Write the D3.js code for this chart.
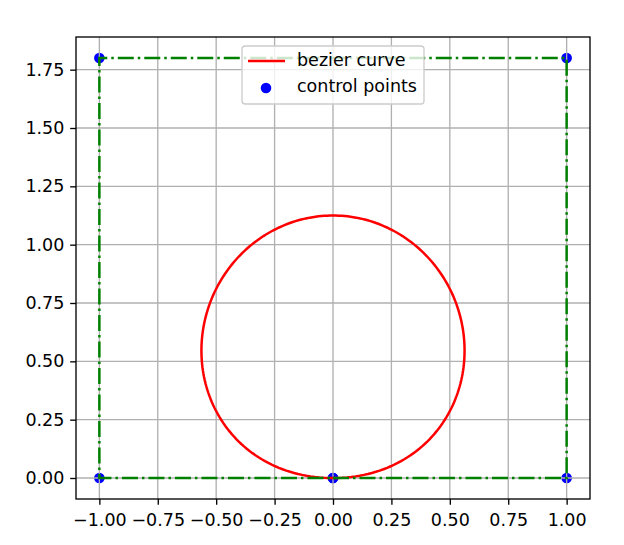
<!DOCTYPE html>
<html><head><meta charset="utf-8">
<script src="https://cdn.jsdelivr.net/npm/d3@7"></script>
<style>body{margin:0;background:#fff}text{font-family:"DejaVu Sans",sans-serif}</style>
</head><body><svg id="c" width="624" height="545"></svg>
<script>
// Control points of the quintic Bezier curve
const ctrlX = [0, 1, 1, -1, -1, 0];
const ctrlY = [0, 0, 1.8, 1.8, 0, 0];
const xTicks = [-1.00, -0.75, -0.50, -0.25, 0.00, 0.25, 0.50, 0.75, 1.00];
const yTicks = [0.00, 0.25, 0.50, 0.75, 1.00, 1.25, 1.50, 1.75];
const legendLabels = ["bezier curve", "control points"];

const FS = 17.5;
const svg = d3.select("#c");
const L = 76, R = 590, T = 37, B = 499;
const x = d3.scaleLinear().domain([-1.1, 1.1]).range([L, R]);
const y = d3.scaleLinear().domain([-0.09, 1.89]).range([B, T]);

// Bezier curve evaluated from control points (De Casteljau)
function bez(t) {
  let px = ctrlX.slice(), py = ctrlY.slice();
  for (let k = px.length - 1; k > 0; k--) {
    for (let i = 0; i < k; i++) {
      px[i] = (1 - t) * px[i] + t * px[i + 1];
      py[i] = (1 - t) * py[i] + t * py[i + 1];
    }
  }
  return [px[0], py[0]];
}
const curve = d3.range(0, 1.0001, 0.004).map(bez);
const ctrl = ctrlX.map((v, i) => [v, ctrlY[i]]);

// scatter (below grid like matplotlib)
svg.append("g").selectAll("circle").data(ctrl).join("circle")
  .attr("cx", d => x(d[0])).attr("cy", d => y(d[1])).attr("r", 5.3).attr("fill", "#0000ff");

// grid
const grid = svg.append("g").attr("stroke", "#b0b0b0").attr("stroke-width", 1.33);
grid.selectAll(".gx").data(xTicks).join("line").attr("x1", d => x(d)).attr("x2", d => x(d)).attr("y1", T).attr("y2", B);
grid.selectAll(".gy").data(yTicks).join("line").attr("y1", d => y(d)).attr("y2", d => y(d)).attr("x1", L).attr("x2", R);

const line = d3.line().x(d => x(d[0])).y(d => y(d[1]));
svg.append("path").attr("d", line(curve)).attr("fill", "none").attr("stroke", "#ff0000").attr("stroke-width", 2.5);
svg.append("path").attr("d", line(ctrl)).attr("fill", "none").attr("stroke", "#008000").attr("stroke-width", 2.5)
  .attr("stroke-dasharray", "16,4,2.5,4");

// axes
const fmt = d => d3.format(".2f")(d).replace("-", "\u2212");
const xa = svg.append("g").attr("transform", `translate(0,${B})`)
  .call(d3.axisBottom(x).tickValues(xTicks).tickFormat(fmt).tickSize(5.83).tickPadding(8.8));
const ya = svg.append("g").attr("transform", `translate(${L},0)`)
  .call(d3.axisLeft(y).tickValues(yTicks).tickFormat(fmt).tickSize(5.83).tickPadding(5.83));
[xa, ya].forEach(a => {
  a.select(".domain").remove();
  a.attr("font-size", FS).attr("font-family", "DejaVu Sans");
  a.selectAll("line").attr("stroke", "#000").attr("stroke-width", 1.33);
  a.selectAll("text").attr("font-size", FS).attr("fill", "#000");
});

svg.append("rect").attr("x", L).attr("y", T).attr("width", R - L).attr("height", B - T)
  .attr("fill", "none").attr("stroke", "#000").attr("stroke-width", 1.33);

// legend
const lg = svg.append("g").attr("transform", "translate(242,46)");
lg.append("rect").attr("x", 0).attr("y", 0).attr("width", 182).attr("height", 58).attr("rx", 3.3)
  .attr("fill", "#fff").attr("fill-opacity", 0.8).attr("stroke", "#cccccc").attr("stroke-width", 1.33);
lg.append("line").attr("x1", 6).attr("x2", 43).attr("y1", 15).attr("y2", 15).attr("stroke", "#ff0000").attr("stroke-width", 2.5);
lg.append("circle").attr("cx", 24).attr("cy", 42).attr("r", 5.3).attr("fill", "#0000ff");
lg.selectAll("text.l").data(legendLabels).join("text").attr("class", "l")
  .attr("x", 55).attr("y", (d, i) => 20 + i * 26).attr("font-size", FS).attr("fill", "#000").text(d => d);
</script></body></html>
